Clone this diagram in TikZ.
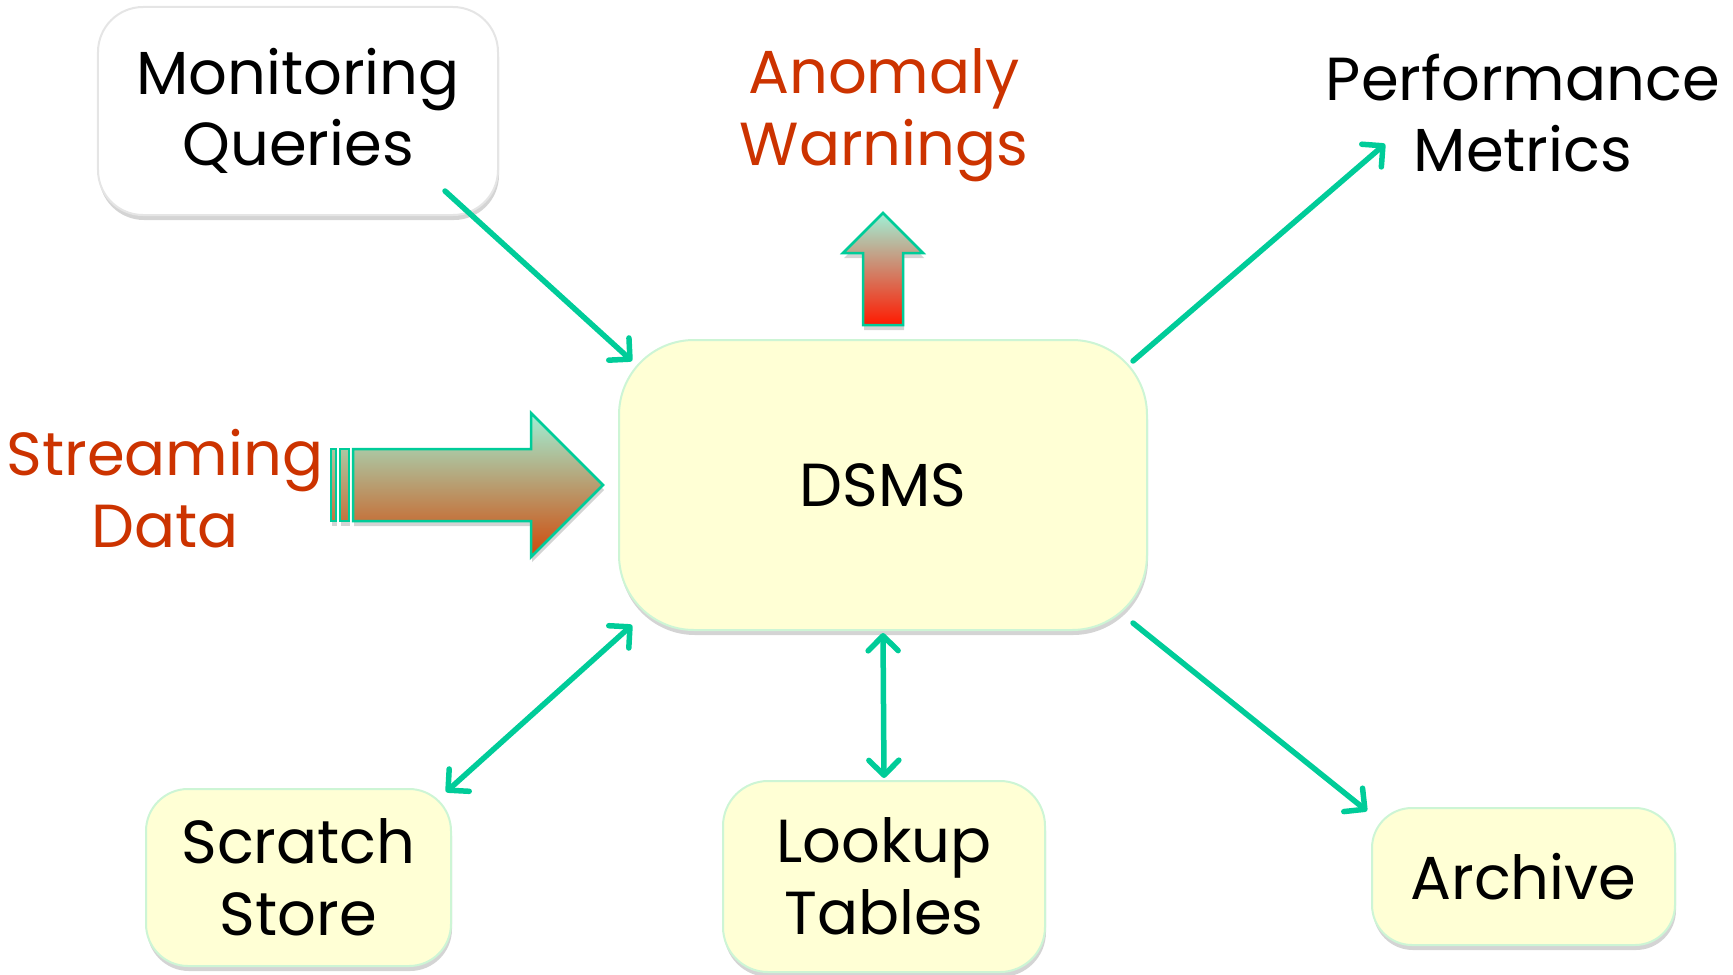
\documentclass[tikz,border=0pt]{standalone}
\usepackage{fontspec}
\setmainfont{Poppins}
\usetikzlibrary{arrows.meta,shadows,calc}
\definecolor{arrteal}{HTML}{00CC99}
\definecolor{boxfill}{HTML}{FFFFD5}
\definecolor{boxline}{HTML}{CDF5D5}
\definecolor{redtext}{HTML}{CC3300}
\definecolor{mint}{HTML}{A0F0D6}
\definecolor{rust}{HTML}{D04A0A}
\definecolor{hot}{HTML}{FF1A00}
\tikzset{
  lbl/.style={align=center, inner sep=0pt, font=\fontsize{61}{72}\selectfont},
  softshadow/.style={drop shadow={shadow xshift=1bp, shadow yshift=-5bp, opacity=0.28, fill=black!60}},
  ybox/.style={lbl, draw=boxline, line width=2bp, fill=boxfill, softshadow},
  wbox/.style={lbl, draw=black!10, line width=2bp, fill=white, softshadow},
  conn/.style={draw=arrteal, line width=5.5bp, line cap=round},
  tip/.style={-{Straight Barb[length=15bp, width=30bp, line cap=round, line join=round]}},
  bitip/.style={{Straight Barb[length=15bp, width=30bp, line cap=round, line join=round]}-{Straight Barb[length=15bp, width=30bp, line cap=round, line join=round]}},
  blockarrow/.style={draw=arrteal, line width=2.5bp, line join=miter, softshadow},
}
\begin{document}
\begin{tikzpicture}[x=1bp, y=-1bp]
\useasboundingbox (0,0) rectangle (1733,974);
\clip (0,0) rectangle (1733,974);

% boxes
\node[wbox, rounded corners=45bp, minimum width=400bp, minimum height=208bp] (mon) at (298,111) {Monitoring\\Queries};
\node[ybox, rounded corners=75bp, minimum width=528bp, minimum height=290bp] (dsms) at (883,485) {DSMS};
\node[ybox, rounded corners=42bp, minimum width=305bp, minimum height=177bp] (scratch) at (298.5,877.5) {Scratch\\Store};
\node[ybox, rounded corners=45bp, minimum width=322bp, minimum height=191bp] (lookup) at (884,876.5) {Lookup\\Tables};
\node[ybox, rounded corners=40bp, minimum width=303bp, minimum height=137bp] (archive) at (1523.5,876.5) {Archive};

% free labels
\node[lbl, text=redtext] (anom) at (884,115) {Anomaly\\Warnings};
\node[lbl] (perf) at (1523,113) {Performance\\Metrics};
\node[lbl, text=redtext] (stream) at (165,489) {Streaming\\Data};

% block arrows
\path[blockarrow, top color=mint!75!rust, bottom color=mint!25!rust] (331,449) rectangle (336,521);
\path[blockarrow, top color=mint!75!rust, bottom color=mint!25!rust] (340,449) rectangle (349,521);
\path[blockarrow, top color=mint, bottom color=rust]
  (353,449) -- (531,449) -- (531,413) -- (603,485) -- (531,557) -- (531,521) -- (353,521) -- cycle;
\path[blockarrow, top color=mint, bottom color=hot]
  (863,325) -- (863,253) -- (843,253) -- (883,213) -- (923,253) -- (903,253) -- (903,325) -- cycle;

% connectors
\coordinate (perfin) at (1385,144);
\draw[conn, tip] ($(mon.south east)+(-54,-25)$) -- ($(dsms.north west)+(14,22)$);
\draw[conn, tip] ($(dsms.north east)+(-15,22)$) -- (perfin);
\draw[conn, bitip] ($(dsms.south west)+(14,-6)$) -- ($(scratch.north east)+(-6,4)$);
\draw[conn, bitip] ($(dsms.south)+(0,2)$) -- ($(lookup.north)+(0,-2)$);
\draw[conn, tip] ($(dsms.south east)+(-15,-8)$) -- ($(archive.north west)+(-4,4)$);
\end{tikzpicture}
\end{document}
